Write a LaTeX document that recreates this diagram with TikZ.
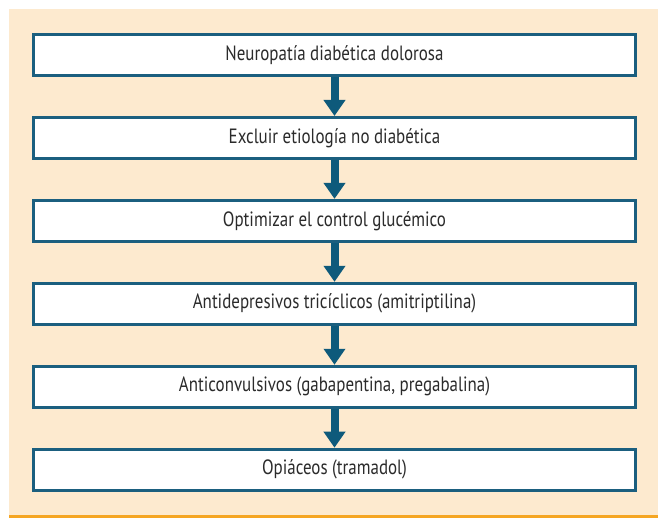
\documentclass[tikz,border=0pt]{standalone}
\usepackage{fontspec}
\setmainfont{PT Sans}[FakeStretch=0.82]
\usepackage{tikz}
\usetikzlibrary{positioning}
\usetikzlibrary{graphs}
\usetikzlibrary{arrows.meta}
\definecolor{boxblue}{HTML}{1B5F7F}
\definecolor{flowblue}{HTML}{0E5A7B}
\definecolor{panel}{HTML}{FDEACF}
\definecolor{rule}{HTML}{F5A623}
\definecolor{ink}{HTML}{2B2B2B}
\tikzset{stage/.style={draw=boxblue,line width=2.2pt,fill=white,minimum width=451.5pt,minimum height=30.75pt,inner sep=0pt,text=ink,font=\fontsize{15.5}{18}\selectfont}}
\tikzset{flow/.style={draw=flowblue,line width=6pt,-{Triangle[width=15.75pt,length=12pt]}}}

\begin{document}
\begin{tikzpicture}[x=0.75pt,y=-0.75pt,node distance=29.25pt]
            \useasboundingbox (0,0) rectangle (658,518);
            \fill[panel] (9,9) rectangle (658,516);
            \fill[rule] (9,515) rectangle (658,517.5);

            \node (n1) [stage] at (334.5,55)  {Neuropatía diabética dolorosa};
            \node (n2) [stage,below=of n1]    {Excluir etiología no diabética};
            \node (n3) [stage,below=of n2]    {Optimizar el control glucémico};
            \node (n4) [stage,below=of n3]    {Antidepresivos tricíclicos (amitriptilina)};
            \node (n5) [stage,below=of n4]    {Anticonvulsivos (gabapentina, pregabalina)};
            \node (n6) [stage,below=of n5]    {Opiáceos (tramadol)};

            \graph{
                (n1) ->[flow] (n2) ->[flow] (n3) ->[flow] (n4) ->[flow] (n5) ->[flow] (n6);
            };
        \end{tikzpicture}
\end{document}
